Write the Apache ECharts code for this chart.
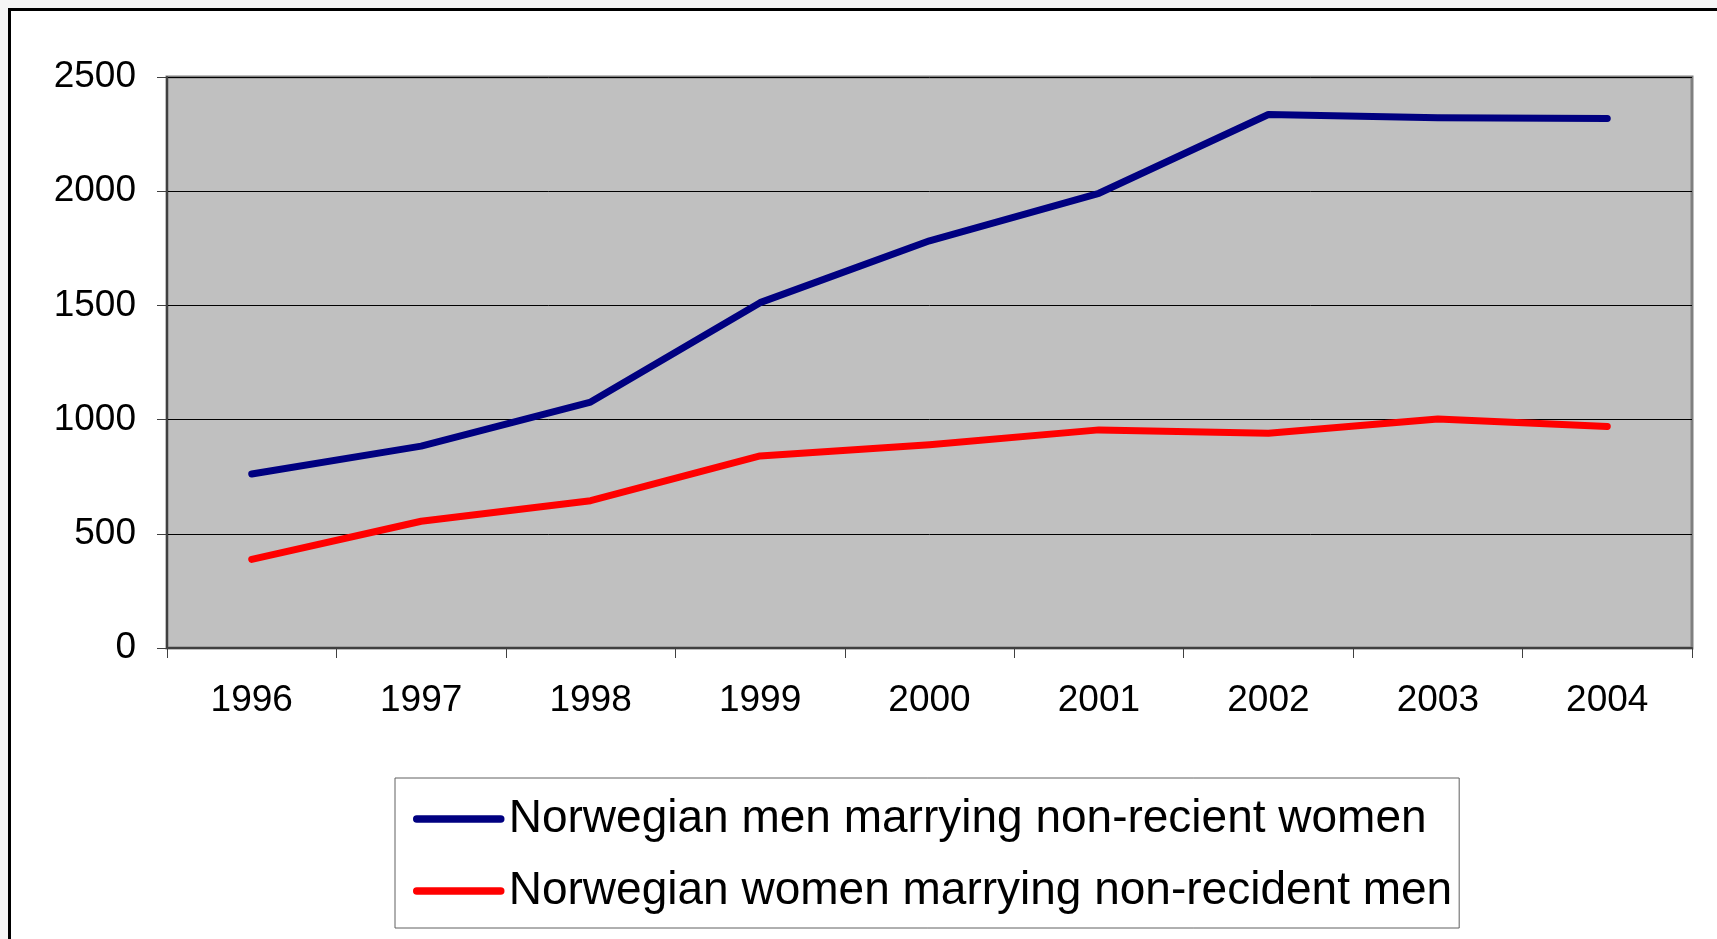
<!DOCTYPE html>
<html>
<head>
<meta charset="utf-8">
<script src="https://cdn.jsdelivr.net/npm/echarts@6/dist/echarts.min.js"></script>
<style>
	html, body { margin: 0; padding: 0; background: #f6f6f6; overflow: hidden; }
	#frame { position: absolute; left: 8px; top: 8px; width: 1800px; height: 1000px; border: 3px solid #000; background: #fff; }
	#main { position: absolute; left: 0; top: 0; width: 1717px; height: 939px; }
</style>
</head>
<body>
<div id="frame"></div>
<div id="main"></div>
<script>
var years = ['1996', '1997', '1998', '1999', '2000', '2001', '2002', '2003', '2004'];
var menNames = 'Norwegian men marrying non-recient women';
var womenNames = 'Norwegian women marrying non-recident men';
var men = [762, 884, 1077, 1512, 1783, 1991, 2336, 2322, 2318];
var women = [388, 555, 645, 841, 890, 955, 940, 1003, 970];

var font = '"Liberation Sans", Arial, sans-serif';

var chart = echarts.init(document.getElementById('main'));

var option = {
	backgroundColor: 'transparent',
	animation: false,
	grid: {
		left: 167,
		top: 77,
		right: 25,
		bottom: 291,
		show: true,
		backgroundColor: '#c0c0c0',
		borderColor: '#808080',
		borderWidth: 3
	},
	legend: {
		orient: 'vertical',
		left: 395,
		top: 778,
		padding: [16, 7, 12, 18],
		itemGap: 22,
		itemWidth: 84,
		itemHeight: 20,
		backgroundColor: '#fff',
		borderColor: '#606060',
		borderWidth: 1,
		textStyle: {
			fontFamily: font,
			fontSize: 46,
			lineHeight: 50,
			color: '#000',
			padding: [0, 0, 0, 3]
		},
		itemStyle: { opacity: 0 },
		lineStyle: { width: 7.5, cap: 'round' },
		data: [menNames, womenNames]
	},
	xAxis: {
		type: 'category',
		data: years,
		boundaryGap: true,
		axisLine: { show: true, lineStyle: { color: '#404040', width: 2 } },
		axisTick: { show: true, length: 10, lineStyle: { color: '#404040', width: 1 } },
		axisLabel: { fontFamily: font, fontSize: 37, color: '#000', margin: 34 },
		splitLine: { show: false }
	},
	yAxis: {
		type: 'value',
		min: 0,
		max: 2500,
		interval: 500,
		axisLine: { show: true, lineStyle: { color: '#404040', width: 2 } },
		axisTick: { show: true, length: 10, lineStyle: { color: '#404040', width: 1 } },
		axisLabel: {
			fontFamily: font, fontSize: 37, color: '#000', margin: 31,
			formatter: function (v) { return String(v); }
		},
		splitLine: { show: true, lineStyle: { color: '#000', width: 1 } }
	},
	series: [
		{
			name: menNames,
			type: 'line',
			data: men,
			symbol: 'none',
			lineStyle: { color: '#000080', width: 7, cap: 'round', join: 'round' },
			itemStyle: { color: '#000080' }
		},
		{
			name: womenNames,
			type: 'line',
			data: women,
			symbol: 'none',
			lineStyle: { color: '#ff0000', width: 7, cap: 'round', join: 'round' },
			itemStyle: { color: '#ff0000' }
		}
	]
};

chart.setOption(option);
</script>
</body>
</html>
